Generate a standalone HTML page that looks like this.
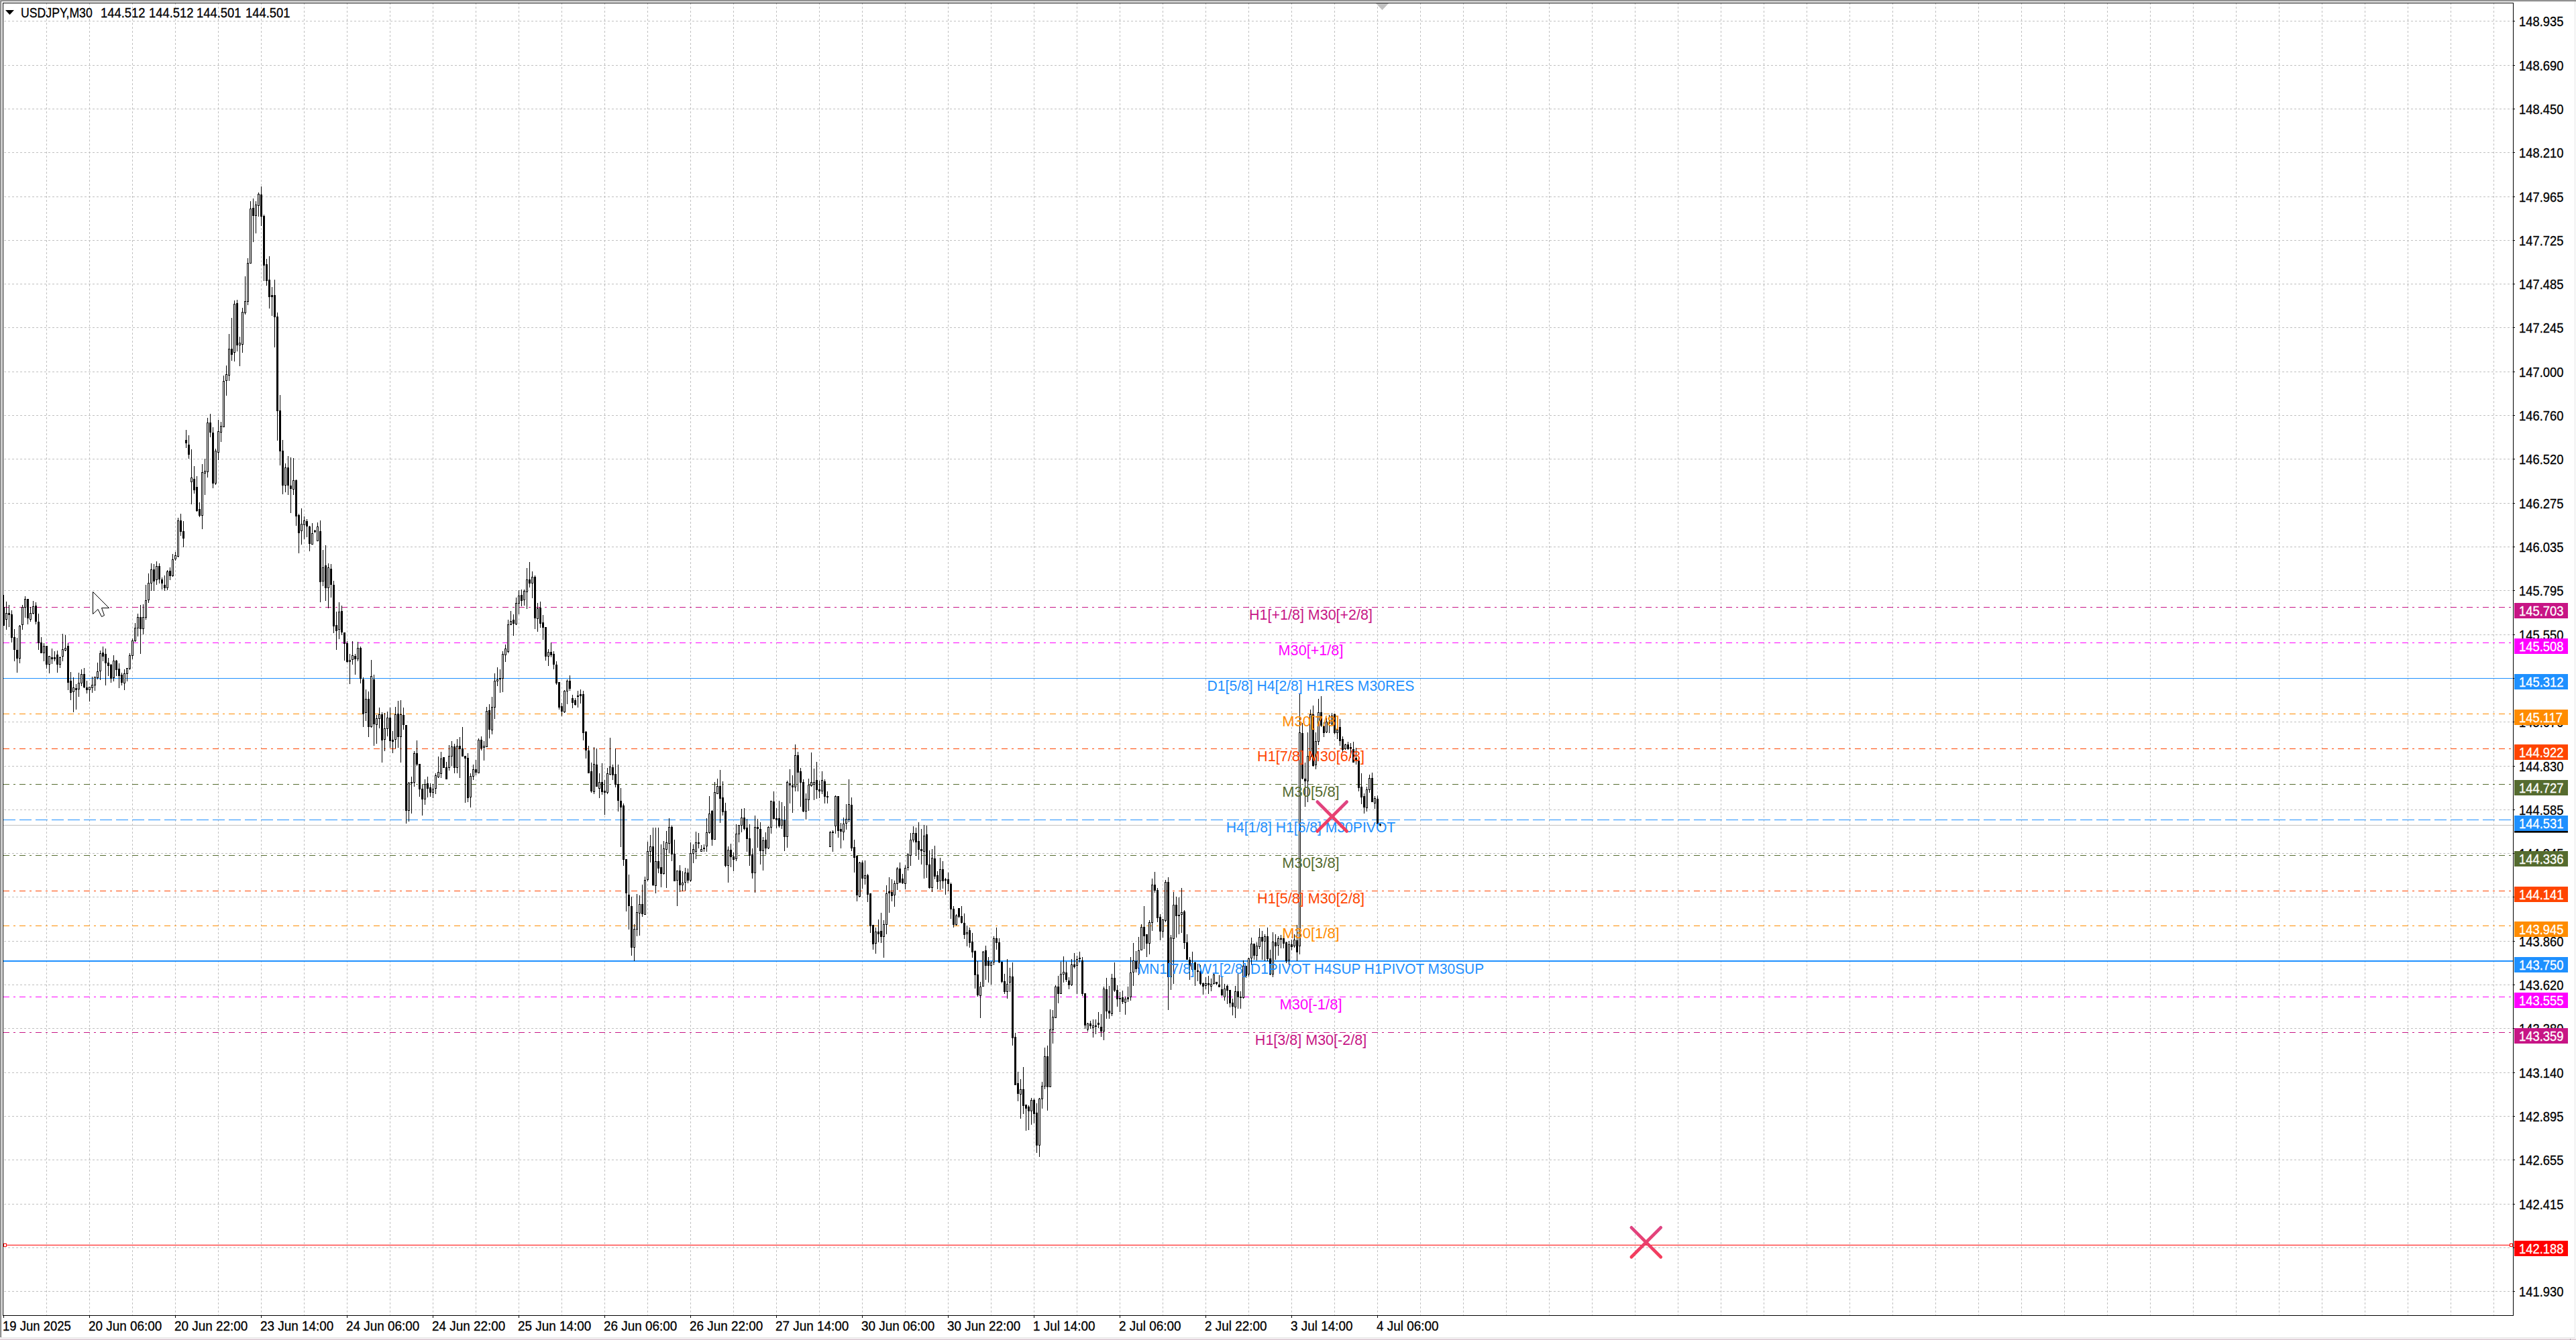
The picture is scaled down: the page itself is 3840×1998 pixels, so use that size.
<!DOCTYPE html><html><head><meta charset="utf-8"><style>
html,body{margin:0;padding:0;background:#fff;overflow:hidden}
#c{position:relative;width:3840px;height:1998px;overflow:hidden;background:#fff;font-family:"Liberation Sans",sans-serif}
svg{position:absolute;left:0;top:0}
.t{position:absolute;white-space:pre;line-height:1;transform-origin:0 0}
.ax{font-size:20px;-webkit-text-stroke:0.3px currentColor}
.lb{font-size:22px}
.bx{position:absolute;left:3748px;width:80px;height:23px}
</style></head><body><div id="c">
<svg width="3840" height="1998" viewBox="0 0 3840 1998" shape-rendering="crispEdges">
<defs><clipPath id="cp"><rect x="5" y="5" width="3741" height="1956"/></clipPath></defs>
<rect x="0" y="0" width="3840" height="1" fill="#a8a8a8"/>
<rect x="1" y="1" width="3839" height="1" fill="#6a6a6a"/>
<rect x="0" y="0" width="1" height="1994" fill="#a8a8a8"/>
<rect x="1" y="1" width="1" height="1993" fill="#6a6a6a"/>
<rect x="3838" y="2" width="1" height="1993" fill="#e5e5e5"/>
<rect x="1" y="1994" width="3838" height="1" fill="#e3e4e3"/>
<rect x="0" y="1996" width="3840" height="2" fill="#dfd1d9"/>
<rect x="3831" y="1996" width="1" height="2" fill="#ab9ca4"/>
<g clip-path="url(#cp)">
<path d="M0 31.5H3746M0 97.5H3746M0 162.5H3746M0 227.5H3746M0 293.5H3746M0 358.5H3746M0 423.5H3746M0 488.5H3746M0 554.5H3746M0 619.5H3746M0 684.5H3746M0 750.5H3746M0 815.5H3746M0 880.5H3746M0 946.5H3746M0 1011.5H3746M0 1076.5H3746M0 1142.5H3746M0 1207.5H3746M0 1272.5H3746M0 1337.5H3746M0 1403.5H3746M0 1468.5H3746M0 1533.5H3746M0 1599.5H3746M0 1664.5H3746M0 1729.5H3746M0 1795.5H3746M0 1860.5H3746M0 1925.5H3746" stroke="#c0c0c0" stroke-width="1" stroke-dasharray="3 3" fill="none"/>
<path d="M69.5 -2V1961M133.5 -2V1961M197.5 -2V1961M261.5 -2V1961M325.5 -2V1961M389.5 -2V1961M453.5 -2V1961M517.5 -2V1961M581.5 -2V1961M645.5 -2V1961M709.5 -2V1961M773.5 -2V1961M837.5 -2V1961M901.5 -2V1961M965.5 -2V1961M1029.5 -2V1961M1093.5 -2V1961M1157.5 -2V1961M1221.5 -2V1961M1285.5 -2V1961M1349.5 -2V1961M1413.5 -2V1961M1477.5 -2V1961M1541.5 -2V1961M1605.5 -2V1961M1669.5 -2V1961M1733.5 -2V1961M1797.5 -2V1961M1861.5 -2V1961M1925.5 -2V1961M1989.5 -2V1961M2053.5 -2V1961M2117.5 -2V1961M2181.5 -2V1961M2245.5 -2V1961M2309.5 -2V1961M2373.5 -2V1961M2437.5 -2V1961M2501.5 -2V1961M2565.5 -2V1961M2629.5 -2V1961M2693.5 -2V1961M2757.5 -2V1961M2821.5 -2V1961M2885.5 -2V1961M2949.5 -2V1961M3013.5 -2V1961M3077.5 -2V1961M3141.5 -2V1961M3205.5 -2V1961M3269.5 -2V1961M3333.5 -2V1961M3397.5 -2V1961M3461.5 -2V1961M3525.5 -2V1961M3589.5 -2V1961M3653.5 -2V1961M3717.5 -2V1961" stroke="#c0c0c0" stroke-width="1" stroke-dasharray="3 3" fill="none"/>
<path d="M5 905.5H3746" stroke="#c71585" stroke-width="1" stroke-dasharray="9 6 3 6" fill="none"/>
<path d="M5 958.5H3746" stroke="#ff00ff" stroke-width="1" stroke-dasharray="9 6 3 6" fill="none"/>
<rect x="5" y="1011" width="3741" height="1" fill="#1e90ff"/>
<path d="M5 1064.5H3746" stroke="#ff8c00" stroke-width="1" stroke-dasharray="9 6 3 6" fill="none"/>
<path d="M5 1116.5H3746" stroke="#ff4500" stroke-width="1" stroke-dasharray="9 6 3 6" fill="none"/>
<path d="M5 1169.5H3746" stroke="#556b2f" stroke-width="1" stroke-dasharray="9 6 3 6" fill="none"/>
<path d="M5 1222.5H3746" stroke="#1e90ff" stroke-width="1" stroke-dasharray="18 6" fill="none"/>
<path d="M5 1275.5H3746" stroke="#556b2f" stroke-width="1" stroke-dasharray="9 6 3 6" fill="none"/>
<path d="M5 1328.5H3746" stroke="#ff4500" stroke-width="1" stroke-dasharray="9 6 3 6" fill="none"/>
<path d="M5 1380.5H3746" stroke="#ff8c00" stroke-width="1" stroke-dasharray="9 6 3 6" fill="none"/>
<rect x="5" y="1432" width="3741" height="2" fill="#1e90ff"/>
<path d="M5 1486.5H3746" stroke="#ff00ff" stroke-width="1" stroke-dasharray="9 6 3 6" fill="none"/>
<path d="M5 1539.5H3746" stroke="#c71585" stroke-width="1" stroke-dasharray="9 6 3 6" fill="none"/>
<rect x="5" y="1856" width="3741" height="1" fill="#ff0000"/>
<rect x="5" y="1230" width="3741" height="1" fill="#c0c0c0"/>
<rect x="3741.5" y="1854.5" width="4" height="4" fill="#fff" stroke="#ff0000" stroke-width="1"/>
<rect x="5.5" y="1854.5" width="4" height="4" fill="#fff" stroke="#ff0000" stroke-width="1"/>
<path d="M5.5 887V933M9.5 897V939M13.5 902V935M17.5 910V958M21.5 938V986M25.5 951V1003M29.5 932V989M33.5 902V939M37.5 889V921M41.5 893V931M45.5 905V927M49.5 896V916M53.5 898V931M57.5 915V969M61.5 950V974M65.5 959V986M69.5 963V997M73.5 978V1004M77.5 967V990M81.5 971V986M85.5 970V1003M89.5 979V996M93.5 945V986M97.5 947V971M101.5 959V1029M105.5 1002V1044M109.5 1010V1062M113.5 1020V1058M117.5 1003V1039M121.5 998V1023M125.5 996V1026M129.5 1015V1034M133.5 1024V1046M137.5 1009V1033M141.5 1009V1030M145.5 988V1013M149.5 970V1014M153.5 964V986M157.5 967V1022M161.5 981V1008M165.5 990V1018M169.5 977V1016M173.5 984V1008M177.5 989V1026M181.5 1003V1022M185.5 998V1029M189.5 996V1016M193.5 974V999M197.5 952V983M201.5 929V957M205.5 915V949M209.5 902V975M213.5 901V946M217.5 872V924M221.5 855V899M225.5 840V881M229.5 841V881M233.5 837V872M237.5 840V870M241.5 861V879M245.5 858V881M249.5 850V880M253.5 846V865M257.5 826V860M261.5 823V836M265.5 772V831M269.5 766V799M273.5 777V816M277.5 641V668M281.5 649V684M285.5 670V752M289.5 695V736M293.5 710V763M297.5 749V771M301.5 692V789M305.5 684V738M309.5 623V712M313.5 617V652M317.5 637V728M321.5 669V723M325.5 626V686M329.5 629V659M333.5 560V637M337.5 545V590M341.5 498V568M345.5 474V538M349.5 448V539M353.5 447V524M357.5 502V546M361.5 459V526M365.5 412V469M369.5 385V455M373.5 300V393M377.5 296V361M381.5 300V348M385.5 287V323M389.5 278V337M393.5 320V419M397.5 386V426M401.5 382V460M405.5 428V471M409.5 417V518M413.5 466V657M417.5 589V694M421.5 656V737M425.5 691V734M429.5 680V738M433.5 682V765M437.5 683V738M441.5 715V784M445.5 766V825M449.5 758V812M453.5 770V804M457.5 774V801M461.5 784V822M465.5 780V812M469.5 790V795M473.5 779V807M477.5 776V898M481.5 820V874M485.5 813V896M489.5 840V907M493.5 841V891M497.5 866V944M501.5 912V969M505.5 898V953M509.5 903V947M513.5 943V985M517.5 956V988M521.5 975V1020M525.5 956V991M529.5 975V1006M533.5 957V986M537.5 964V1019M541.5 1010V1084M545.5 1028V1075M549.5 1031V1099M553.5 984V1085M557.5 1006V1112M561.5 1066V1109M565.5 1055V1086M569.5 1062V1137M573.5 1063V1120M577.5 1061V1098M581.5 1055V1115M585.5 1090V1123M589.5 1054V1116M593.5 1045V1115M597.5 1044V1137M601.5 1055V1088M605.5 1081V1228M609.5 1166V1225M613.5 1158V1213M617.5 1120V1173M621.5 1104V1142M625.5 1139V1188M629.5 1170V1216M633.5 1162V1200M637.5 1158V1189M641.5 1168V1188M645.5 1169V1190M649.5 1153V1184M653.5 1128V1160M657.5 1121V1160M661.5 1129V1145M665.5 1136V1162M669.5 1111V1149M673.5 1105V1142M677.5 1109V1153M681.5 1102V1153M685.5 1099V1160M689.5 1084V1128M693.5 1127V1197M697.5 1123V1196M701.5 1153V1204M705.5 1140V1163M709.5 1133V1156M713.5 1101V1153M717.5 1098V1119M721.5 1105V1134M725.5 1054V1114M729.5 1050V1101M733.5 1039V1095M737.5 1004V1072M741.5 995V1023M745.5 998V1033M749.5 971V1032M753.5 961V987M757.5 924V974M761.5 911V932M765.5 916V948M769.5 891V932M773.5 880V916M777.5 879V904M781.5 879V903M785.5 847V908M789.5 838V876M793.5 852V892M797.5 858V938M801.5 899V942M805.5 897V936M809.5 917V954M813.5 935V985M817.5 968V993M821.5 958V980M825.5 971V998M829.5 986V1021M833.5 1017V1058M837.5 1048V1068M841.5 1029V1063M845.5 1013V1050M849.5 1007V1030M853.5 1036V1056M857.5 1041V1052M861.5 1030V1055M865.5 1028V1049M869.5 1030V1104M873.5 1090V1131M877.5 1112V1153M881.5 1137V1182M885.5 1114V1184M889.5 1116V1173M893.5 1153V1190M897.5 1138V1185M901.5 1163V1215M905.5 1145V1184M909.5 1100V1156M913.5 1140V1163M917.5 1116V1174M921.5 1140V1210M925.5 1175V1263M929.5 1198V1291M933.5 1281V1359M937.5 1304V1386M941.5 1337V1425M945.5 1378V1433M949.5 1333V1396M953.5 1335V1395M957.5 1319V1367M961.5 1307V1364M965.5 1255V1314M969.5 1245V1286M973.5 1234V1321M977.5 1234V1332M981.5 1234V1302M985.5 1259V1323M989.5 1254V1304M993.5 1239V1324M997.5 1220V1272M1001.5 1231V1284M1005.5 1252V1314M1009.5 1298V1351M1013.5 1290V1330M1017.5 1299V1329M1021.5 1294V1328M1025.5 1295V1317M1029.5 1256V1315M1033.5 1259V1287M1037.5 1240V1281M1041.5 1242V1265M1045.5 1260V1270M1049.5 1259V1270M1053.5 1220V1270M1057.5 1187V1243M1061.5 1208V1261M1065.5 1166V1252M1069.5 1161V1184M1073.5 1148V1227M1077.5 1165V1216M1081.5 1197V1293M1085.5 1262V1316M1089.5 1258V1293M1093.5 1271V1299M1097.5 1229V1284M1101.5 1230V1256M1105.5 1206V1241M1109.5 1205V1238M1113.5 1221V1270M1117.5 1229V1291M1121.5 1265V1310M1125.5 1216V1331M1129.5 1221V1264M1133.5 1226V1289M1137.5 1248V1298M1141.5 1241V1274M1145.5 1232V1266M1149.5 1194V1243M1153.5 1180V1222M1157.5 1205V1235M1161.5 1194V1234M1165.5 1196V1236M1169.5 1202V1269M1173.5 1164V1264M1177.5 1147V1198M1181.5 1156V1212M1185.5 1110V1180M1189.5 1121V1180M1193.5 1145V1203M1197.5 1162V1211M1201.5 1183V1222M1205.5 1161V1209M1209.5 1122V1173M1213.5 1146V1193M1217.5 1136V1191M1221.5 1164V1190M1225.5 1150V1184M1229.5 1162V1198M1233.5 1180V1198M1237.5 1239V1263M1241.5 1238V1270M1245.5 1186V1243M1249.5 1187V1249M1253.5 1227V1265M1257.5 1219V1253M1261.5 1199V1237M1265.5 1162V1226M1269.5 1189V1269M1273.5 1252V1301M1277.5 1276V1344M1281.5 1285V1338M1285.5 1283V1325M1289.5 1283V1319M1293.5 1303V1345M1297.5 1332V1391M1301.5 1379V1416M1305.5 1383V1422M1309.5 1371V1405M1313.5 1361V1406M1317.5 1372V1428M1321.5 1320V1393M1325.5 1308V1361M1329.5 1311V1344M1333.5 1313V1352M1337.5 1293V1327M1341.5 1286V1317M1345.5 1303V1318M1349.5 1290V1326M1353.5 1272V1298M1357.5 1242V1291M1361.5 1232V1256M1365.5 1234V1276M1369.5 1226V1282M1373.5 1236V1289M1377.5 1230V1310M1381.5 1231V1309M1385.5 1268V1325M1389.5 1266V1330M1393.5 1261V1311M1397.5 1299V1326M1401.5 1279V1327M1405.5 1284V1325M1409.5 1309V1334M1413.5 1301V1329M1417.5 1316V1370M1421.5 1351V1383M1425.5 1363V1380M1429.5 1354V1369M1433.5 1351V1377M1437.5 1362V1400M1441.5 1380V1411M1445.5 1383V1413M1449.5 1391V1428M1453.5 1417V1474M1457.5 1433V1486M1461.5 1464V1518M1465.5 1418V1471M1469.5 1410V1461M1473.5 1427V1465M1477.5 1433V1468M1481.5 1396V1439M1485.5 1383V1416M1489.5 1399V1436M1493.5 1434V1466M1497.5 1452V1482M1501.5 1430V1489M1505.5 1443V1479M1509.5 1435V1559M1513.5 1540V1618M1517.5 1598V1642M1521.5 1609V1668M1525.5 1591V1661M1529.5 1647V1686M1533.5 1648V1685M1537.5 1637V1677M1541.5 1638V1675M1545.5 1645V1719M1549.5 1637V1725M1553.5 1613V1653M1557.5 1562V1624M1561.5 1559V1656M1565.5 1505V1621M1569.5 1506V1556M1573.5 1469V1518M1577.5 1455V1496M1581.5 1434V1482M1585.5 1426V1465M1589.5 1434V1464M1593.5 1457V1475M1597.5 1430V1470M1601.5 1421V1444M1605.5 1425V1482M1609.5 1419V1435M1613.5 1427V1485M1617.5 1481V1534M1621.5 1525V1538M1625.5 1522V1534M1629.5 1520V1547M1633.5 1520V1542M1637.5 1509V1533M1641.5 1512V1546M1645.5 1471V1551M1649.5 1458V1519M1653.5 1470V1519M1657.5 1452V1515M1661.5 1435V1479M1665.5 1469V1501M1669.5 1479V1509M1673.5 1477V1497M1677.5 1486V1513M1681.5 1471V1494M1685.5 1427V1492M1689.5 1406V1470M1693.5 1418V1450M1697.5 1397V1454M1701.5 1378V1417M1705.5 1351V1415M1709.5 1393V1427M1713.5 1372V1423M1717.5 1310V1388M1721.5 1300V1331M1725.5 1324V1375M1729.5 1363V1402M1733.5 1370V1398M1737.5 1312V1375M1741.5 1308V1506M1745.5 1394V1476M1749.5 1330V1467M1753.5 1337V1398M1757.5 1338V1393M1761.5 1324V1391M1765.5 1357V1415M1769.5 1393V1431M1773.5 1427V1461M1777.5 1419V1449M1781.5 1434V1470M1785.5 1437V1463M1789.5 1439V1469M1793.5 1465V1483M1797.5 1457V1475M1801.5 1455V1482M1805.5 1459V1478M1809.5 1452V1468M1813.5 1464V1469M1817.5 1454V1472M1821.5 1457V1485M1825.5 1467V1492M1829.5 1468V1497M1833.5 1476V1502M1837.5 1489V1514M1841.5 1470V1518M1845.5 1452V1504M1849.5 1478V1504M1853.5 1432V1489M1857.5 1440V1458M1861.5 1428V1456M1865.5 1398V1439M1869.5 1407V1431M1873.5 1405V1432M1877.5 1384V1415M1881.5 1388V1431M1885.5 1393V1433M1889.5 1383V1433M1893.5 1416V1454M1897.5 1390V1457M1901.5 1393V1431M1905.5 1396V1425M1909.5 1394V1414M1913.5 1396V1414M1917.5 1404V1436M1921.5 1403V1439M1925.5 1401V1417M1929.5 1393V1413M1933.5 1379V1433M1937.5 1034V1423M1941.5 1078V1162M1945.5 1137V1203M1949.5 1092V1196M1953.5 1058V1133M1957.5 1052V1143M1961.5 1092V1147M1965.5 1042V1111M1969.5 1038V1084M1973.5 1077V1099M1977.5 1070V1093M1981.5 1066V1093M1985.5 1063V1081M1989.5 1064V1095M1993.5 1086V1102M1997.5 1072V1112M2001.5 1098V1123M2005.5 1109V1118M2009.5 1106V1118M2013.5 1108V1130M2017.5 1106V1137M2021.5 1115V1140M2025.5 1134V1180M2029.5 1153V1199M2033.5 1183V1213M2037.5 1173V1210M2041.5 1155V1182M2045.5 1152V1196M2049.5 1187V1206M2053.5 1186V1229M2057.5 1228V1232" stroke="#000" stroke-width="1" fill="none"/>
<path d="M4 905h3V933h-3ZM12 914h3V917h-3ZM16 916h3V951h-3ZM20 950h3V969h-3ZM24 969h3V982h-3ZM40 893h3V922h-3ZM52 903h3V927h-3ZM56 927h3V959h-3ZM60 958h3V974h-3ZM68 963h3V991h-3ZM76 980h3V983h-3ZM80 980h3V983h-3ZM84 976h3V991h-3ZM100 963h3V1018h-3ZM104 1015h3V1033h-3ZM112 1026h3V1029h-3ZM124 1005h3V1025h-3ZM128 1025h3V1029h-3ZM152 973h3V979h-3ZM156 975h3V989h-3ZM160 988h3V993h-3ZM164 991h3V1012h-3ZM172 985h3V999h-3ZM176 997h3V1008h-3ZM180 1006h3V1018h-3ZM208 920h3V938h-3ZM228 849h3V867h-3ZM236 844h3V864h-3ZM240 864h3V870h-3ZM244 872h3V877h-3ZM252 851h3V859h-3ZM268 776h3V793h-3ZM272 792h3V803h-3ZM276 656h3V661h-3ZM280 663h3V678h-3ZM288 714h3V731h-3ZM292 726h3V762h-3ZM296 759h3V769h-3ZM312 630h3V645h-3ZM316 645h3V721h-3ZM344 520h3V529h-3ZM352 452h3V515h-3ZM376 310h3V322h-3ZM388 290h3V323h-3ZM392 322h3V396h-3ZM396 394h3V419h-3ZM400 417h3V443h-3ZM404 440h3V443h-3ZM408 440h3V473h-3ZM412 472h3V613h-3ZM416 612h3V673h-3ZM420 672h3V724h-3ZM428 697h3V724h-3ZM432 724h3V729h-3ZM440 716h3V770h-3ZM444 768h3V795h-3ZM456 777h3V785h-3ZM460 785h3V811h-3ZM468 791h3V793h-3ZM476 792h3V868h-3ZM484 843h3V877h-3ZM492 848h3V872h-3ZM496 872h3V934h-3ZM500 932h3V941h-3ZM508 911h3V943h-3ZM512 943h3V960h-3ZM516 959h3V987h-3ZM528 978h3V983h-3ZM536 966h3V1012h-3ZM540 1013h3V1065h-3ZM548 1042h3V1084h-3ZM556 1013h3V1080h-3ZM568 1065h3V1104h-3ZM580 1070h3V1105h-3ZM584 1103h3V1106h-3ZM592 1064h3V1099h-3ZM600 1066h3V1081h-3ZM604 1081h3V1209h-3ZM620 1123h3V1140h-3ZM624 1139h3V1177h-3ZM628 1176h3V1192h-3ZM636 1168h3V1176h-3ZM640 1174h3V1182h-3ZM660 1129h3V1145h-3ZM664 1144h3V1162h-3ZM676 1113h3V1145h-3ZM684 1112h3V1117h-3ZM688 1116h3V1128h-3ZM692 1127h3V1131h-3ZM696 1130h3V1190h-3ZM708 1147h3V1152h-3ZM716 1103h3V1116h-3ZM728 1059h3V1088h-3ZM744 1011h3V1013h-3ZM764 924h3V930h-3ZM776 887h3V896h-3ZM788 864h3V870h-3ZM796 860h3V922h-3ZM804 906h3V930h-3ZM808 928h3V936h-3ZM812 935h3V979h-3ZM820 972h3V977h-3ZM824 975h3V991h-3ZM828 991h3V1019h-3ZM832 1017h3V1055h-3ZM836 1053h3V1061h-3ZM848 1015h3V1027h-3ZM852 1041h3V1048h-3ZM856 1044h3V1051h-3ZM860 1037h3V1039h-3ZM864 1035h3V1038h-3ZM868 1035h3V1093h-3ZM872 1091h3V1119h-3ZM876 1119h3V1153h-3ZM880 1150h3V1180h-3ZM888 1140h3V1173h-3ZM896 1166h3V1181h-3ZM900 1179h3V1182h-3ZM912 1144h3V1156h-3ZM916 1154h3V1170h-3ZM920 1169h3V1194h-3ZM924 1194h3V1204h-3ZM928 1201h3V1282h-3ZM932 1281h3V1332h-3ZM936 1334h3V1351h-3ZM940 1351h3V1413h-3ZM956 1348h3V1363h-3ZM972 1262h3V1320h-3ZM980 1284h3V1295h-3ZM984 1293h3V1303h-3ZM1000 1233h3V1274h-3ZM1004 1273h3V1314h-3ZM1012 1298h3V1320h-3ZM1024 1301h3V1313h-3ZM1040 1256h3V1258h-3ZM1048 1264h3V1266h-3ZM1060 1209h3V1252h-3ZM1072 1172h3V1191h-3ZM1076 1189h3V1211h-3ZM1080 1209h3V1291h-3ZM1088 1267h3V1278h-3ZM1092 1277h3V1282h-3ZM1108 1219h3V1236h-3ZM1112 1234h3V1251h-3ZM1116 1250h3V1276h-3ZM1120 1274h3V1302h-3ZM1128 1233h3V1236h-3ZM1132 1236h3V1269h-3ZM1140 1252h3V1265h-3ZM1152 1195h3V1221h-3ZM1156 1220h3V1223h-3ZM1160 1220h3V1232h-3ZM1168 1223h3V1248h-3ZM1176 1168h3V1171h-3ZM1180 1171h3V1174h-3ZM1188 1126h3V1152h-3ZM1192 1150h3V1167h-3ZM1196 1166h3V1210h-3ZM1216 1163h3V1178h-3ZM1220 1177h3V1180h-3ZM1228 1165h3V1188h-3ZM1232 1187h3V1189h-3ZM1240 1240h3V1242h-3ZM1248 1187h3V1239h-3ZM1252 1236h3V1240h-3ZM1268 1200h3V1265h-3ZM1272 1263h3V1279h-3ZM1276 1276h3V1335h-3ZM1284 1286h3V1310h-3ZM1292 1305h3V1334h-3ZM1296 1332h3V1381h-3ZM1300 1379h3V1408h-3ZM1308 1389h3V1393h-3ZM1312 1388h3V1397h-3ZM1324 1329h3V1332h-3ZM1328 1330h3V1336h-3ZM1340 1295h3V1316h-3ZM1344 1310h3V1317h-3ZM1364 1242h3V1256h-3ZM1368 1254h3V1267h-3ZM1372 1266h3V1269h-3ZM1380 1244h3V1290h-3ZM1384 1289h3V1324h-3ZM1392 1280h3V1307h-3ZM1396 1305h3V1315h-3ZM1404 1296h3V1314h-3ZM1408 1311h3V1313h-3ZM1412 1311h3V1318h-3ZM1416 1318h3V1356h-3ZM1420 1355h3V1379h-3ZM1428 1354h3V1367h-3ZM1432 1366h3V1376h-3ZM1436 1376h3V1394h-3ZM1444 1387h3V1406h-3ZM1448 1404h3V1420h-3ZM1452 1418h3V1454h-3ZM1456 1453h3V1484h-3ZM1468 1417h3V1440h-3ZM1472 1433h3V1440h-3ZM1484 1399h3V1406h-3ZM1488 1405h3V1435h-3ZM1492 1434h3V1464h-3ZM1496 1463h3V1479h-3ZM1508 1456h3V1548h-3ZM1512 1546h3V1618h-3ZM1516 1615h3V1631h-3ZM1524 1624h3V1649h-3ZM1528 1647h3V1653h-3ZM1532 1650h3V1657h-3ZM1540 1640h3V1661h-3ZM1544 1659h3V1708h-3ZM1560 1575h3V1621h-3ZM1576 1471h3V1482h-3ZM1588 1450h3V1461h-3ZM1592 1462h3V1469h-3ZM1600 1438h3V1442h-3ZM1608 1428h3V1430h-3ZM1612 1432h3V1482h-3ZM1616 1481h3V1529h-3ZM1624 1526h3V1530h-3ZM1632 1529h3V1531h-3ZM1636 1525h3V1528h-3ZM1640 1531h3V1538h-3ZM1648 1475h3V1508h-3ZM1652 1507h3V1511h-3ZM1660 1458h3V1477h-3ZM1664 1476h3V1490h-3ZM1668 1488h3V1490h-3ZM1672 1487h3V1494h-3ZM1680 1487h3V1490h-3ZM1692 1433h3V1445h-3ZM1704 1382h3V1396h-3ZM1708 1393h3V1407h-3ZM1720 1319h3V1328h-3ZM1724 1327h3V1369h-3ZM1728 1367h3V1389h-3ZM1740 1315h3V1457h-3ZM1752 1349h3V1366h-3ZM1756 1364h3V1366h-3ZM1764 1359h3V1406h-3ZM1768 1405h3V1431h-3ZM1772 1431h3V1441h-3ZM1780 1435h3V1446h-3ZM1784 1447h3V1449h-3ZM1788 1448h3V1467h-3ZM1792 1466h3V1471h-3ZM1800 1466h3V1469h-3ZM1812 1464h3V1467h-3ZM1816 1468h3V1472h-3ZM1820 1475h3V1484h-3ZM1828 1470h3V1477h-3ZM1832 1476h3V1496h-3ZM1836 1495h3V1501h-3ZM1844 1478h3V1487h-3ZM1848 1486h3V1488h-3ZM1856 1440h3V1455h-3ZM1868 1407h3V1425h-3ZM1880 1397h3V1404h-3ZM1888 1396h3V1430h-3ZM1892 1429h3V1453h-3ZM1900 1405h3V1411h-3ZM1908 1399h3V1401h-3ZM1912 1399h3V1407h-3ZM1916 1405h3V1433h-3ZM1924 1408h3V1412h-3ZM1932 1402h3V1420h-3ZM1940 1093h3V1161h-3ZM1944 1161h3V1165h-3ZM1956 1065h3V1142h-3ZM1968 1062h3V1082h-3ZM1972 1082h3V1093h-3ZM1980 1076h3V1079h-3ZM1988 1065h3V1093h-3ZM1996 1084h3V1105h-3ZM2000 1102h3V1118h-3ZM2008 1110h3V1117h-3ZM2012 1114h3V1116h-3ZM2016 1117h3V1137h-3ZM2020 1130h3V1134h-3ZM2024 1134h3V1175h-3ZM2028 1173h3V1189h-3ZM2032 1187h3V1204h-3ZM2044 1160h3V1196h-3ZM2052 1191h3V1229h-3ZM2056 1229h3V1231h-3Z" fill="#000"/>
<path d="M8 914h3v10h-3ZM28 933h3v49h-3ZM32 905h3v27h-3ZM36 893h3v13h-3ZM44 914h3v10h-3ZM48 904h3v11h-3ZM64 963h3v11h-3ZM72 978h3v13h-3ZM88 980h3v11h-3ZM92 968h3v11h-3ZM96 966h3v4h-3ZM108 1025h3v7h-3ZM116 1018h3v10h-3ZM120 1005h3v14h-3ZM132 1024h3v5h-3ZM136 1021h3v5h-3ZM140 1009h3v13h-3ZM144 1001h3v10h-3ZM148 974h3v27h-3ZM168 985h3v26h-3ZM184 1004h3v15h-3ZM188 996h3v9h-3ZM192 977h3v20h-3ZM196 955h3v23h-3ZM200 936h3v20h-3ZM204 920h3v17h-3ZM212 920h3v18h-3ZM216 895h3v26h-3ZM220 869h3v26h-3ZM224 849h3v21h-3ZM232 844h3v21h-3ZM248 852h3v25h-3ZM256 834h3v25h-3ZM260 828h3v6h-3ZM264 776h3v54h-3ZM284 712h3v7h-3ZM300 704h3v65h-3ZM304 702h3v4h-3ZM308 630h3v74h-3ZM320 672h3v49h-3ZM324 643h3v32h-3ZM328 635h3v10h-3ZM332 568h3v69h-3ZM336 558h3v10h-3ZM340 520h3v40h-3ZM348 453h3v73h-3ZM356 511h3v4h-3ZM360 465h3v49h-3ZM364 449h3v18h-3ZM368 392h3v58h-3ZM372 311h3v82h-3ZM380 305h3v17h-3ZM384 289h3v18h-3ZM424 697h3v27h-3ZM436 716h3v14h-3ZM448 781h3v11h-3ZM452 776h3v7h-3ZM464 795h3v17h-3ZM472 785h3v22h-3ZM480 846h3v21h-3ZM488 846h3v31h-3ZM504 912h3v27h-3ZM520 984h3v3h-3ZM524 977h3v7h-3ZM532 966h3v17h-3ZM544 1042h3v21h-3ZM552 1008h3v76h-3ZM560 1071h3v10h-3ZM564 1065h3v7h-3ZM572 1086h3v17h-3ZM576 1070h3v17h-3ZM588 1065h3v38h-3ZM596 1065h3v34h-3ZM608 1167h3v42h-3ZM612 1166h3v2h-3ZM616 1123h3v44h-3ZM632 1169h3v23h-3ZM644 1176h3v6h-3ZM648 1156h3v20h-3ZM652 1151h3v8h-3ZM656 1131h3v23h-3ZM668 1127h3v18h-3ZM672 1113h3v15h-3ZM680 1112h3v33h-3ZM700 1157h3v32h-3ZM704 1147h3v11h-3ZM712 1103h3v50h-3ZM720 1112h3v3h-3ZM724 1060h3v54h-3ZM732 1054h3v35h-3ZM736 1015h3v40h-3ZM740 1013h3v3h-3ZM748 975h3v37h-3ZM752 967h3v10h-3ZM756 931h3v41h-3ZM760 926h3v6h-3ZM768 899h3v32h-3ZM772 888h3v12h-3ZM780 881h3v14h-3ZM784 864h3v19h-3ZM792 860h3v10h-3ZM800 907h3v16h-3ZM816 972h3v7h-3ZM840 1030h3v32h-3ZM844 1015h3v16h-3ZM884 1139h3v42h-3ZM892 1166h3v10h-3ZM904 1153h3v29h-3ZM908 1143h3v12h-3ZM944 1385h3v28h-3ZM948 1360h3v26h-3ZM952 1348h3v14h-3ZM960 1312h3v52h-3ZM964 1269h3v43h-3ZM968 1262h3v8h-3ZM976 1284h3v37h-3ZM988 1265h3v38h-3ZM992 1256h3v11h-3ZM996 1233h3v25h-3ZM1008 1298h3v15h-3ZM1016 1316h3v4h-3ZM1020 1301h3v15h-3ZM1028 1272h3v41h-3ZM1032 1266h3v7h-3ZM1036 1256h3v14h-3ZM1044 1266h3v4h-3ZM1052 1241h3v21h-3ZM1056 1213h3v29h-3ZM1064 1181h3v71h-3ZM1068 1172h3v12h-3ZM1084 1267h3v24h-3ZM1096 1243h3v38h-3ZM1100 1230h3v14h-3ZM1104 1219h3v12h-3ZM1124 1233h3v69h-3ZM1136 1253h3v16h-3ZM1144 1233h3v32h-3ZM1148 1194h3v40h-3ZM1164 1222h3v9h-3ZM1172 1166h3v82h-3ZM1184 1126h3v48h-3ZM1200 1191h3v19h-3ZM1204 1170h3v23h-3ZM1208 1166h3v6h-3ZM1212 1166h3v4h-3ZM1224 1163h3v17h-3ZM1236 1241h3v22h-3ZM1244 1187h3v45h-3ZM1256 1228h3v13h-3ZM1260 1221h3v7h-3ZM1264 1199h3v23h-3ZM1280 1286h3v51h-3ZM1288 1305h3v5h-3ZM1304 1389h3v18h-3ZM1316 1378h3v19h-3ZM1320 1332h3v47h-3ZM1332 1317h3v18h-3ZM1336 1295h3v23h-3ZM1348 1294h3v24h-3ZM1352 1274h3v20h-3ZM1356 1252h3v24h-3ZM1360 1242h3v11h-3ZM1376 1246h3v24h-3ZM1388 1279h3v45h-3ZM1400 1296h3v18h-3ZM1424 1365h3v14h-3ZM1440 1390h3v3h-3ZM1460 1471h3v14h-3ZM1464 1419h3v52h-3ZM1476 1435h3v5h-3ZM1480 1399h3v36h-3ZM1500 1467h3v12h-3ZM1504 1456h3v9h-3ZM1520 1624h3v8h-3ZM1536 1640h3v17h-3ZM1548 1638h3v70h-3ZM1552 1619h3v20h-3ZM1556 1575h3v45h-3ZM1564 1535h3v86h-3ZM1568 1516h3v20h-3ZM1572 1471h3v47h-3ZM1580 1452h3v30h-3ZM1584 1449h3v4h-3ZM1596 1438h3v31h-3ZM1604 1430h3v10h-3ZM1620 1526h3v9h-3ZM1628 1529h3v4h-3ZM1644 1474h3v64h-3ZM1656 1458h3v54h-3ZM1676 1489h3v6h-3ZM1684 1450h3v37h-3ZM1688 1432h3v18h-3ZM1696 1417h3v27h-3ZM1700 1382h3v35h-3ZM1712 1375h3v32h-3ZM1716 1319h3v57h-3ZM1732 1371h3v18h-3ZM1736 1315h3v58h-3ZM1744 1398h3v59h-3ZM1748 1349h3v51h-3ZM1760 1360h3v4h-3ZM1776 1436h3v10h-3ZM1796 1466h3v4h-3ZM1804 1467h3v4h-3ZM1808 1453h3v14h-3ZM1824 1474h3v13h-3ZM1840 1478h3v24h-3ZM1852 1440h3v48h-3ZM1860 1429h3v24h-3ZM1864 1407h3v22h-3ZM1872 1410h3v15h-3ZM1876 1397h3v15h-3ZM1884 1396h3v8h-3ZM1896 1404h3v49h-3ZM1904 1399h3v11h-3ZM1920 1408h3v24h-3ZM1928 1401h3v10h-3ZM1936 1092h3v319h-3ZM1948 1127h3v38h-3ZM1952 1065h3v64h-3ZM1960 1105h3v36h-3ZM1964 1062h3v44h-3ZM1976 1076h3v16h-3ZM1984 1067h3v13h-3ZM1992 1088h3v5h-3ZM2004 1110h3v7h-3ZM2036 1177h3v28h-3ZM2040 1160h3v18h-3ZM2048 1190h3v8h-3Z" fill="#000"/>
<path d="M9 915h1v8h-1ZM29 934h1v47h-1ZM33 906h1v25h-1ZM37 894h1v11h-1ZM45 915h1v8h-1ZM49 905h1v9h-1ZM65 964h1v9h-1ZM73 979h1v11h-1ZM89 981h1v9h-1ZM93 969h1v9h-1ZM97 967h1v2h-1ZM109 1026h1v5h-1ZM117 1019h1v8h-1ZM121 1006h1v12h-1ZM133 1025h1v3h-1ZM137 1022h1v3h-1ZM141 1010h1v11h-1ZM145 1002h1v8h-1ZM149 975h1v25h-1ZM169 986h1v24h-1ZM185 1005h1v13h-1ZM189 997h1v7h-1ZM193 978h1v18h-1ZM197 956h1v21h-1ZM201 937h1v18h-1ZM205 921h1v15h-1ZM213 921h1v16h-1ZM217 896h1v24h-1ZM221 870h1v24h-1ZM225 850h1v19h-1ZM233 845h1v19h-1ZM249 853h1v23h-1ZM257 835h1v23h-1ZM261 829h1v4h-1ZM265 777h1v52h-1ZM285 713h1v5h-1ZM301 705h1v63h-1ZM305 703h1v2h-1ZM309 631h1v72h-1ZM321 673h1v47h-1ZM325 644h1v30h-1ZM329 636h1v8h-1ZM333 569h1v67h-1ZM337 559h1v8h-1ZM341 521h1v38h-1ZM349 454h1v71h-1ZM357 512h1v2h-1ZM361 466h1v47h-1ZM365 450h1v16h-1ZM369 393h1v56h-1ZM373 312h1v80h-1ZM381 306h1v15h-1ZM385 290h1v16h-1ZM425 698h1v25h-1ZM437 717h1v12h-1ZM449 782h1v9h-1ZM453 777h1v5h-1ZM465 796h1v15h-1ZM473 786h1v20h-1ZM481 847h1v19h-1ZM489 847h1v29h-1ZM505 913h1v25h-1ZM521 985h1v1h-1ZM525 978h1v5h-1ZM533 967h1v15h-1ZM545 1043h1v19h-1ZM553 1009h1v74h-1ZM561 1072h1v8h-1ZM565 1066h1v5h-1ZM573 1087h1v15h-1ZM577 1071h1v15h-1ZM589 1066h1v36h-1ZM597 1066h1v32h-1ZM609 1168h1v40h-1ZM617 1124h1v42h-1ZM633 1170h1v21h-1ZM645 1177h1v4h-1ZM649 1157h1v18h-1ZM653 1152h1v6h-1ZM657 1132h1v21h-1ZM669 1128h1v16h-1ZM673 1114h1v13h-1ZM681 1113h1v31h-1ZM701 1158h1v30h-1ZM705 1148h1v9h-1ZM713 1104h1v48h-1ZM721 1113h1v1h-1ZM725 1061h1v52h-1ZM733 1055h1v33h-1ZM737 1016h1v38h-1ZM741 1014h1v1h-1ZM749 976h1v35h-1ZM753 968h1v8h-1ZM757 932h1v39h-1ZM761 927h1v4h-1ZM769 900h1v30h-1ZM773 889h1v10h-1ZM781 882h1v12h-1ZM785 865h1v17h-1ZM793 861h1v8h-1ZM801 908h1v14h-1ZM817 973h1v5h-1ZM841 1031h1v30h-1ZM845 1016h1v14h-1ZM885 1140h1v40h-1ZM893 1167h1v8h-1ZM905 1154h1v27h-1ZM909 1144h1v10h-1ZM945 1386h1v26h-1ZM949 1361h1v24h-1ZM953 1349h1v12h-1ZM961 1313h1v50h-1ZM965 1270h1v41h-1ZM969 1263h1v6h-1ZM977 1285h1v35h-1ZM989 1266h1v36h-1ZM993 1257h1v9h-1ZM997 1234h1v23h-1ZM1009 1299h1v13h-1ZM1017 1317h1v2h-1ZM1021 1302h1v13h-1ZM1029 1273h1v39h-1ZM1033 1267h1v5h-1ZM1037 1257h1v12h-1ZM1045 1267h1v2h-1ZM1053 1242h1v19h-1ZM1057 1214h1v27h-1ZM1065 1182h1v69h-1ZM1069 1173h1v10h-1ZM1085 1268h1v22h-1ZM1097 1244h1v36h-1ZM1101 1231h1v12h-1ZM1105 1220h1v10h-1ZM1125 1234h1v67h-1ZM1137 1254h1v14h-1ZM1145 1234h1v30h-1ZM1149 1195h1v38h-1ZM1165 1223h1v7h-1ZM1173 1167h1v80h-1ZM1185 1127h1v46h-1ZM1201 1192h1v17h-1ZM1205 1171h1v21h-1ZM1209 1167h1v4h-1ZM1213 1167h1v2h-1ZM1225 1164h1v15h-1ZM1237 1242h1v20h-1ZM1245 1188h1v43h-1ZM1257 1229h1v11h-1ZM1261 1222h1v5h-1ZM1265 1200h1v21h-1ZM1281 1287h1v49h-1ZM1289 1306h1v3h-1ZM1305 1390h1v16h-1ZM1317 1379h1v17h-1ZM1321 1333h1v45h-1ZM1333 1318h1v16h-1ZM1337 1296h1v21h-1ZM1349 1295h1v22h-1ZM1353 1275h1v18h-1ZM1357 1253h1v22h-1ZM1361 1243h1v9h-1ZM1377 1247h1v22h-1ZM1389 1280h1v43h-1ZM1401 1297h1v16h-1ZM1425 1366h1v12h-1ZM1441 1391h1v1h-1ZM1461 1472h1v12h-1ZM1465 1420h1v50h-1ZM1477 1436h1v3h-1ZM1481 1400h1v34h-1ZM1501 1468h1v10h-1ZM1505 1457h1v7h-1ZM1521 1625h1v6h-1ZM1537 1641h1v15h-1ZM1549 1639h1v68h-1ZM1553 1620h1v18h-1ZM1557 1576h1v43h-1ZM1565 1536h1v84h-1ZM1569 1517h1v18h-1ZM1573 1472h1v45h-1ZM1581 1453h1v28h-1ZM1585 1450h1v2h-1ZM1597 1439h1v29h-1ZM1605 1431h1v8h-1ZM1621 1527h1v7h-1ZM1629 1530h1v2h-1ZM1645 1475h1v62h-1ZM1657 1459h1v52h-1ZM1677 1490h1v4h-1ZM1685 1451h1v35h-1ZM1689 1433h1v16h-1ZM1697 1418h1v25h-1ZM1701 1383h1v33h-1ZM1713 1376h1v30h-1ZM1717 1320h1v55h-1ZM1733 1372h1v16h-1ZM1737 1316h1v56h-1ZM1745 1399h1v57h-1ZM1749 1350h1v49h-1ZM1761 1361h1v2h-1ZM1777 1437h1v8h-1ZM1797 1467h1v2h-1ZM1805 1468h1v2h-1ZM1809 1454h1v12h-1ZM1825 1475h1v11h-1ZM1841 1479h1v22h-1ZM1853 1441h1v46h-1ZM1861 1430h1v22h-1ZM1865 1408h1v20h-1ZM1873 1411h1v13h-1ZM1877 1398h1v13h-1ZM1885 1397h1v6h-1ZM1897 1405h1v47h-1ZM1905 1400h1v9h-1ZM1921 1409h1v22h-1ZM1929 1402h1v8h-1ZM1937 1093h1v317h-1ZM1949 1128h1v36h-1ZM1953 1066h1v62h-1ZM1961 1106h1v34h-1ZM1965 1063h1v42h-1ZM1977 1077h1v14h-1ZM1985 1068h1v11h-1ZM1993 1089h1v3h-1ZM2005 1111h1v5h-1ZM2037 1178h1v26h-1ZM2041 1161h1v16h-1ZM2049 1191h1v6h-1Z" fill="#fff"/>
</g>
<rect x="4" y="4" width="3743" height="1" fill="#000"/>
<rect x="4" y="4" width="1" height="1958" fill="#000"/>
<rect x="3746" y="4" width="1" height="1958" fill="#000"/>
<rect x="4" y="1961" width="3743" height="1" fill="#000"/>
<path d="M3747 31.5h2M3747 97.5h2M3747 162.5h2M3747 227.5h2M3747 293.5h2M3747 358.5h2M3747 423.5h2M3747 488.5h2M3747 554.5h2M3747 619.5h2M3747 684.5h2M3747 750.5h2M3747 815.5h2M3747 880.5h2M3747 946.5h2M3747 1011.5h2M3747 1076.5h2M3747 1142.5h2M3747 1207.5h2M3747 1272.5h2M3747 1337.5h2M3747 1403.5h2M3747 1468.5h2M3747 1533.5h2M3747 1599.5h2M3747 1664.5h2M3747 1729.5h2M3747 1795.5h2M3747 1860.5h2M3747 1925.5h2" stroke="#000" stroke-width="1"/>
<path d="M5.5 1962v3M133.5 1962v3M261.5 1962v3M389.5 1962v3M517.5 1962v3M645.5 1962v3M773.5 1962v3M901.5 1962v3M1029.5 1962v3M1157.5 1962v3M1285.5 1962v3M1413.5 1962v3M1541.5 1962v3M1669.5 1962v3M1797.5 1962v3M1925.5 1962v3M2053.5 1962v3" stroke="#000" stroke-width="1"/>
<polygon points="2051,5 2070,5 2060.5,15" fill="#c0c0c0" shape-rendering="geometricPrecision"/>
<polygon points="8,15 21,15 14.5,22" fill="#000" shape-rendering="geometricPrecision"/>
<path d="M138.5 882.5V915.5L146 908.5L151.5 919.5L155.5 917.5L151.5 906.5H162.5Z" fill="#fff" stroke="#000" stroke-width="1" shape-rendering="geometricPrecision"/>
</svg>
<div class="t lb" style="left:1454.1px;width:1000px;text-align:center;top:906px;color:#c71585;transform:scaleX(0.9765);transform-origin:500px 0">H1[+1/8] M30[+2/8]</div>
<div class="t lb" style="left:1454.1px;width:1000px;text-align:center;top:959px;color:#ff00ff;transform:scaleX(0.9832);transform-origin:500px 0">M30[+1/8]</div>
<div class="t lb" style="left:1454.1px;width:1000px;text-align:center;top:1012px;color:#1e90ff;transform:scaleX(0.9603);transform-origin:500px 0">D1[5/8] H4[2/8] H1RES M30RES</div>
<div class="t lb" style="left:1454.1px;width:1000px;text-align:center;top:1065px;color:#ff8c00;transform:scaleX(0.9975);transform-origin:500px 0">M30[7/8]</div>
<div class="t lb" style="left:1454.1px;width:1000px;text-align:center;top:1117px;color:#ff4500;transform:scaleX(0.9832);transform-origin:500px 0">H1[7/8] M30[6/8]</div>
<div class="t lb" style="left:1454.1px;width:1000px;text-align:center;top:1170px;color:#556b2f;transform:scaleX(0.9975);transform-origin:500px 0">M30[5/8]</div>
<div class="t lb" style="left:1454.1px;width:1000px;text-align:center;top:1223px;color:#1e90ff;transform:scaleX(0.9603);transform-origin:500px 0">H4[1/8] H1[6/8] M30PIVOT</div>
<div class="t lb" style="left:1454.1px;width:1000px;text-align:center;top:1276px;color:#556b2f;transform:scaleX(0.9975);transform-origin:500px 0">M30[3/8]</div>
<div class="t lb" style="left:1454.1px;width:1000px;text-align:center;top:1329px;color:#ff4500;transform:scaleX(0.9832);transform-origin:500px 0">H1[5/8] M30[2/8]</div>
<div class="t lb" style="left:1454.1px;width:1000px;text-align:center;top:1381px;color:#ff8c00;transform:scaleX(0.9975);transform-origin:500px 0">M30[1/8]</div>
<div class="t lb" style="left:1454.1px;width:1000px;text-align:center;top:1434px;color:#1e90ff;transform:scaleX(0.9488);transform-origin:500px 0">MN1[7/8] W1[2/8] D1PIVOT H4SUP H1PIVOT M30SUP</div>
<div class="t lb" style="left:1454.1px;width:1000px;text-align:center;top:1487px;color:#ff00ff;transform:scaleX(1.0013);transform-origin:500px 0">M30[-1/8]</div>
<div class="t lb" style="left:1454.1px;width:1000px;text-align:center;top:1540px;color:#c71585;transform:scaleX(0.9784);transform-origin:500px 0">H1[3/8] M30[-2/8]</div>
<svg width="3840" height="1998" viewBox="0 0 3840 1998" style="position:absolute;left:0;top:0">
<defs><linearGradient id="xg0" gradientUnits="userSpaceOnUse" x1="0" y1="1195.6" x2="0" y2="1239.4"><stop offset="0" stop-color="#de4483"/><stop offset="1" stop-color="#f53c5a"/></linearGradient></defs>
<path d="M1963.8 1195.6L2007.6000000000001 1239.4M2007.6000000000001 1195.6L1963.8 1239.4" stroke="url(#xg0)" stroke-width="4.8" stroke-linecap="round" fill="none"/>
<defs><linearGradient id="xg1" gradientUnits="userSpaceOnUse" x1="0" y1="1830.3999999999999" x2="0" y2="1874.2"><stop offset="0" stop-color="#de4483"/><stop offset="1" stop-color="#f53c5a"/></linearGradient></defs>
<path d="M2431.9 1830.3999999999999L2475.7000000000003 1874.2M2475.7000000000003 1830.3999999999999L2431.9 1874.2" stroke="url(#xg1)" stroke-width="4.8" stroke-linecap="round" fill="none"/>
</svg>
<div class="t ax" style="left:31.2px;top:9px;color:#000;transform:scaleX(0.884)">USDJPY,M30</div>
<div class="t ax" style="left:149.9px;top:9px;color:#000;transform:scaleX(0.919)">144.512</div>
<div class="t ax" style="left:222.0px;top:9px;color:#000;transform:scaleX(0.919)">144.512</div>
<div class="t ax" style="left:293.4px;top:9px;color:#000;transform:scaleX(0.919)">144.501</div>
<div class="t ax" style="left:365.5px;top:9px;color:#000;transform:scaleX(0.919)">144.501</div>
<div class="t ax" style="left:3755px;top:22px;color:#000;transform:scaleX(0.919)">148.935</div>
<div class="t ax" style="left:3755px;top:88px;color:#000;transform:scaleX(0.919)">148.690</div>
<div class="t ax" style="left:3755px;top:153px;color:#000;transform:scaleX(0.919)">148.450</div>
<div class="t ax" style="left:3755px;top:218px;color:#000;transform:scaleX(0.919)">148.210</div>
<div class="t ax" style="left:3755px;top:284px;color:#000;transform:scaleX(0.919)">147.965</div>
<div class="t ax" style="left:3755px;top:349px;color:#000;transform:scaleX(0.919)">147.725</div>
<div class="t ax" style="left:3755px;top:414px;color:#000;transform:scaleX(0.919)">147.485</div>
<div class="t ax" style="left:3755px;top:479px;color:#000;transform:scaleX(0.919)">147.245</div>
<div class="t ax" style="left:3755px;top:545px;color:#000;transform:scaleX(0.919)">147.000</div>
<div class="t ax" style="left:3755px;top:610px;color:#000;transform:scaleX(0.919)">146.760</div>
<div class="t ax" style="left:3755px;top:675px;color:#000;transform:scaleX(0.919)">146.520</div>
<div class="t ax" style="left:3755px;top:741px;color:#000;transform:scaleX(0.919)">146.275</div>
<div class="t ax" style="left:3755px;top:806px;color:#000;transform:scaleX(0.919)">146.035</div>
<div class="t ax" style="left:3755px;top:871px;color:#000;transform:scaleX(0.919)">145.795</div>
<div class="t ax" style="left:3755px;top:937px;color:#000;transform:scaleX(0.919)">145.550</div>
<div class="t ax" style="left:3755px;top:1067px;color:#000;transform:scaleX(0.919)">145.070</div>
<div class="t ax" style="left:3755px;top:1133px;color:#000;transform:scaleX(0.919)">144.830</div>
<div class="t ax" style="left:3755px;top:1198px;color:#000;transform:scaleX(0.919)">144.585</div>
<div class="t ax" style="left:3755px;top:1263px;color:#000;transform:scaleX(0.919)">144.345</div>
<div class="t ax" style="left:3755px;top:1394px;color:#000;transform:scaleX(0.919)">143.860</div>
<div class="t ax" style="left:3755px;top:1459px;color:#000;transform:scaleX(0.919)">143.620</div>
<div class="t ax" style="left:3755px;top:1524px;color:#000;transform:scaleX(0.919)">143.380</div>
<div class="t ax" style="left:3755px;top:1590px;color:#000;transform:scaleX(0.919)">143.140</div>
<div class="t ax" style="left:3755px;top:1655px;color:#000;transform:scaleX(0.919)">142.895</div>
<div class="t ax" style="left:3755px;top:1720px;color:#000;transform:scaleX(0.919)">142.655</div>
<div class="t ax" style="left:3755px;top:1786px;color:#000;transform:scaleX(0.919)">142.415</div>
<div class="t ax" style="left:3755px;top:1916px;color:#000;transform:scaleX(0.919)">141.930</div>
<div class="t ax" style="left:3.7px;top:1967px;color:#000;transform:scaleX(0.925)">19 Jun 2025</div>
<div class="t ax" style="left:131.7px;top:1967px;color:#000;transform:scaleX(0.945)">20 Jun 06:00</div>
<div class="t ax" style="left:259.7px;top:1967px;color:#000;transform:scaleX(0.945)">20 Jun 22:00</div>
<div class="t ax" style="left:387.7px;top:1967px;color:#000;transform:scaleX(0.945)">23 Jun 14:00</div>
<div class="t ax" style="left:515.7px;top:1967px;color:#000;transform:scaleX(0.945)">24 Jun 06:00</div>
<div class="t ax" style="left:643.7px;top:1967px;color:#000;transform:scaleX(0.945)">24 Jun 22:00</div>
<div class="t ax" style="left:771.7px;top:1967px;color:#000;transform:scaleX(0.945)">25 Jun 14:00</div>
<div class="t ax" style="left:899.7px;top:1967px;color:#000;transform:scaleX(0.945)">26 Jun 06:00</div>
<div class="t ax" style="left:1027.7px;top:1967px;color:#000;transform:scaleX(0.945)">26 Jun 22:00</div>
<div class="t ax" style="left:1155.7px;top:1967px;color:#000;transform:scaleX(0.945)">27 Jun 14:00</div>
<div class="t ax" style="left:1283.7px;top:1967px;color:#000;transform:scaleX(0.945)">30 Jun 06:00</div>
<div class="t ax" style="left:1411.7px;top:1967px;color:#000;transform:scaleX(0.945)">30 Jun 22:00</div>
<div class="t ax" style="left:1539.7px;top:1967px;color:#000;transform:scaleX(0.945)">1 Jul 14:00</div>
<div class="t ax" style="left:1667.7px;top:1967px;color:#000;transform:scaleX(0.945)">2 Jul 06:00</div>
<div class="t ax" style="left:1795.7px;top:1967px;color:#000;transform:scaleX(0.945)">2 Jul 22:00</div>
<div class="t ax" style="left:1923.7px;top:1967px;color:#000;transform:scaleX(0.945)">3 Jul 14:00</div>
<div class="t ax" style="left:2051.7px;top:1967px;color:#000;transform:scaleX(0.945)">4 Jul 06:00</div>
<div class="bx" style="top:899px;background:#c71585"></div>
<div class="t ax" style="left:3755px;top:901px;color:#fff;transform:scaleX(0.919)">145.703</div>
<div class="bx" style="top:952px;background:#ff00ff"></div>
<div class="t ax" style="left:3755px;top:954px;color:#fff;transform:scaleX(0.919)">145.508</div>
<div class="bx" style="top:1005px;background:#1e90ff"></div>
<div class="t ax" style="left:3755px;top:1007px;color:#fff;transform:scaleX(0.919)">145.312</div>
<div class="bx" style="top:1058px;background:#ff8c00"></div>
<div class="t ax" style="left:3755px;top:1060px;color:#fff;transform:scaleX(0.919)">145.117</div>
<div class="bx" style="top:1110px;background:#ff4500"></div>
<div class="t ax" style="left:3755px;top:1112px;color:#fff;transform:scaleX(0.919)">144.922</div>
<div class="bx" style="top:1163px;background:#556b2f"></div>
<div class="t ax" style="left:3755px;top:1165px;color:#fff;transform:scaleX(0.919)">144.727</div>
<div class="bx" style="top:1216px;background:#1e90ff"></div>
<div class="t ax" style="left:3755px;top:1218px;color:#fff;transform:scaleX(0.919)">144.531</div>
<div class="bx" style="top:1269px;background:#556b2f"></div>
<div class="t ax" style="left:3755px;top:1271px;color:#fff;transform:scaleX(0.919)">144.336</div>
<div class="bx" style="top:1322px;background:#ff4500"></div>
<div class="t ax" style="left:3755px;top:1324px;color:#fff;transform:scaleX(0.919)">144.141</div>
<div class="bx" style="top:1374px;background:#ff8c00"></div>
<div class="t ax" style="left:3755px;top:1376px;color:#fff;transform:scaleX(0.919)">143.945</div>
<div class="bx" style="top:1427px;background:#1e90ff"></div>
<div class="t ax" style="left:3755px;top:1429px;color:#fff;transform:scaleX(0.919)">143.750</div>
<div class="bx" style="top:1480px;background:#ff00ff"></div>
<div class="t ax" style="left:3755px;top:1482px;color:#fff;transform:scaleX(0.919)">143.555</div>
<div class="bx" style="top:1533px;background:#c71585"></div>
<div class="t ax" style="left:3755px;top:1535px;color:#fff;transform:scaleX(0.919)">143.359</div>
<div class="bx" style="top:1850px;background:#ff0000"></div>
<div class="t ax" style="left:3755px;top:1852px;color:#fff;transform:scaleX(0.919)">142.188</div>
<div class="bx" style="top:1239px;height:2px;background:#000"></div><div class="bx" style="top:1241px;height:1px;background:#666"></div>
</div></body></html>
